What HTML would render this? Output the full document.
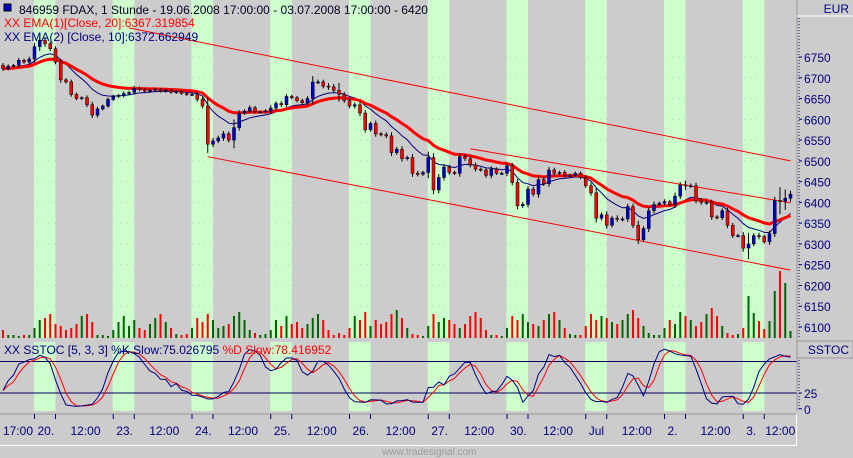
<!DOCTYPE html>
<html><head><meta charset="utf-8"><style>
html,body{margin:0;padding:0;background:#cccccc;}
svg{display:block;font-family:"Liberation Sans",sans-serif;}
</style></head><body>
<svg id="chart" width="853" height="458" viewBox="0 0 853 458" xmlns="http://www.w3.org/2000/svg">
<rect x="0" y="0" width="853" height="458" fill="#cccccc"/>
<g id="bands"></g>
<g id="grid"></g>
<g id="vol"></g>
<g id="chan"></g>
<g id="ema"></g>
<g id="candles"></g>
<g id="stoch"></g>
<g id="axes"></g>
<rect x="4" y="4" width="7" height="7" fill="#0000cc" stroke="#000" stroke-width="1"/>
<text x="19" y="14" font-size="12" fill="#000020">846959  FDAX, 1 Stunde - 19.06.2008 17:00:00 - 03.07.2008 17:00:00 - 6420</text>
<text x="4" y="27" font-size="12" fill="#ff0000">XX EMA(1)[Close, 20]:6367.319854</text>
<text x="4" y="41" font-size="12" fill="#000080">XX EMA(2) [Close, 10]:6372.662949</text>
<text x="4" y="354" font-size="12" fill="#000080">XX SSTOC [5, 3, 3] %K Slow:75.026795 <tspan fill="#ff0000">%D Slow:78.416952</tspan></text>
<text x="382" y="455" font-size="10" fill="#9a9a9a">www.tradesignal.com</text>
</svg>
<script>
const closes=[6722,6728,6730,6742,6738,6745,6775,6790,6782,6770,6738,6695,6690,6660,6650,6652,6635,6610,6625,6632,6648,6655,6658,6662,6665,6675,6672,6668,6670,6672,6668,6670,6665,6667,6662,6660,6660,6648,6632,6540,6548,6555,6565,6550,6580,6615,6620,6628,6618,6618,6620,6627,6638,6635,6655,6652,6645,6640,6650,6690,6690,6680,6678,6670,6660,6645,6632,6635,6615,6575,6590,6565,6563,6560,6520,6528,6505,6508,6470,6468,6472,6508,6430,6460,6485,6472,6470,6510,6505,6490,6480,6478,6465,6480,6470,6470,6488,6448,6392,6395,6432,6420,6455,6445,6478,6470,6472,6465,6465,6470,6460,6440,6423,6362,6370,6345,6362,6360,6360,6390,6345,6310,6337,6380,6395,6398,6402,6395,6415,6442,6440,6440,6405,6400,6400,6365,6363,6380,6345,6320,6320,6290,6300,6320,6318,6305,6325,6405,6403,6410,6420];
const wicks=[8,6,5,8,6,8,12,15,10,8,8,10,6,8,6,5,8,10,8,5,6,6,5,8,6,8,6,5,6,5,5,6,5,6,5,5,6,8,8,30,10,8,10,8,28,10,6,8,6,5,6,10,8,8,8,6,6,6,8,20,8,8,10,10,25,8,8,8,10,10,6,10,6,8,12,8,10,6,12,8,6,20,15,12,10,8,6,12,8,8,8,6,8,10,6,6,10,10,12,8,10,8,12,8,10,8,6,8,6,6,6,8,10,15,8,12,8,10,8,10,10,15,8,12,10,6,8,6,12,10,15,8,10,8,8,10,6,8,10,8,6,12,38,8,10,6,10,12,45,30,12];
const volumes=[8,3,3,2,3,3,
10,18,20,24,14,12,8,10,14,22,24,16,3,3,2,
8,16,22,12,18,10,8,14,20,24,16,10,4,3,4,
10,20,16,24,18,10,12,14,22,26,18,8,5,3,4,
8,18,12,22,14,16,10,14,20,24,18,8,3,5,3,
10,22,18,26,12,18,14,16,24,28,20,10,4,3,2,
12,24,16,20,18,14,10,14,22,26,20,8,3,3,2,
10,22,18,24,16,14,12,18,24,26,18,10,4,3,3,
12,24,18,22,20,16,14,18,24,28,20,12,5,3,3,
10,18,14,26,22,18,12,16,24,30,22,12,5,3,4,
10,42,25,17,9,17,47,67,55,7];
const dayStarts=[6,21,36,51,66,81,96,111,126,141];
const dayLabels=["20.","23.","24.","25.","26.","27.","30.","Jul","2.","3."];
const priceTicks=[6750,6700,6650,6600,6550,6500,6450,6400,6350,6300,6250,6200,6150,6100];
const stochTicks=[25,0];
const upperChannel=[[24,6820],[150,6500]];
const lowerChannel=[[39,6510],[150,6237]];
const midChannel=[[89,6529],[150,6399]];

const NS="http://www.w3.org/2000/svg";
function mk(tag,attrs,parent){const e=document.createElementNS(NS,tag);for(const k in attrs)e.setAttribute(k,attrs[k]);parent.appendChild(e);return e;}
const X=i=>3+5.25*i;
const Y=p=>57+(6750-p)*0.4154;
const VY=v=>338-v;
const SY=s=>393-(s-25)*0.63;
const n=closes.length;
const opens=closes.map((c,i)=>i===0?6730:closes[i-1]);
const highs=closes.map((c,i)=>Math.max(c,opens[i])+wicks[i]*0.7);
const lows=closes.map((c,i)=>Math.min(c,opens[i])-wicks[i]*0.7);

const gB=document.getElementById('bands');
dayStarts.forEach((k,j)=>{
  const x0=X(k)-0.5;
  let r=mk('rect',{x:x0,y:0,width:21.5,height:338,fill:'#ccffcc'},gB);
  
  
  let r2=mk('rect',{x:x0,y:342,width:21.5,height:69,fill:'#ccffcc'},gB);
  
  
});
// separator
let sep=mk('rect',{x:0,y:338,width:797,height:4,fill:'#cccccc'},gB);



const gG=document.getElementById('grid');
priceTicks.forEach(p=>{
  const l=mk('line',{x1:0,x2:797,y1:Y(p),y2:Y(p),stroke:'#b8c8b8','stroke-width':1,'stroke-dasharray':'1 5'},gG);
  
  
});

const gV=document.getElementById('vol');
volumes.forEach((v,i)=>{
  const up=closes[i]>=opens[i];
  const r=mk('rect',{x:X(i)-1,y:VY(v),width:2,height:v,fill:up?'#006600':'#ff0000'},gV);
  
  
});

const gC=document.getElementById('chan');
[[upperChannel,'upper-channel-line'],[lowerChannel,'lower-channel-line'],[midChannel,'middle-channel-line']].forEach(([c,nm])=>{
  const l=mk('line',{x1:X(c[0][0]),y1:Y(c[0][1]),x2:X(c[1][0]),y2:Y(c[1][1]),stroke:'#ff0000','stroke-width':1},gC);
  
  
});

function ema(arr,len){const a=2/(len+1);let out=[],e=arr[0];arr.forEach((v,i)=>{e=i===0?v:e+a*(v-e);out.push(e);});return out;}
const e20=ema(closes,20),e10=ema(closes,10);
const gE=document.getElementById('ema');
const pth=arr=>arr.map((v,i)=>(i?'L':'M')+X(i).toFixed(1)+' '+Y(v).toFixed(1)).join(' ');
let p10=mk('path',{d:pth(e10),fill:'none',stroke:'#000080','stroke-width':1},gE);


let p20=mk('path',{d:pth(e20),fill:'none',stroke:'#ff0000','stroke-width':3},gE);



const gK=document.getElementById('candles');
closes.forEach((c,i)=>{
  const o=opens[i],x=X(i);
  const w=mk('line',{x1:x,x2:x,y1:Y(highs[i]),y2:Y(lows[i]),stroke:'#000','stroke-width':1},gK);
  
  
  const top=Y(Math.max(o,c)),bot=Y(Math.min(o,c));
  const b=mk('rect',{x:x-1.5,y:top,width:3,height:Math.max(1,bot-top),fill:c>=o?'#0000cc':'#ff0000',stroke:'#000','stroke-width':0.5},gK);
  
  
});

// stochastic
const rawK=closes.map((c,i)=>{const s=Math.max(0,i-4);const hh=Math.max(...highs.slice(s,i+1)),ll=Math.min(...lows.slice(s,i+1));return hh===ll?50:(c-ll)/(hh-ll)*100;});
const sma=(arr,l)=>arr.map((v,i)=>{const s=Math.max(0,i-l+1);const sl=arr.slice(s,i+1);return sl.reduce((a,b)=>a+b,0)/sl.length;});
const kS=sma(rawK,3),dS=sma(kS,3);
const gS=document.getElementById('stoch');
[75,25].forEach(l=>{
  const ln=mk('line',{x1:0,x2:797,y1:SY(l),y2:SY(l),stroke:'#000060','stroke-width':1},gS);
  
  
});
const sp=arr=>arr.map((v,i)=>(i?'L':'M')+X(i).toFixed(1)+' '+SY(v).toFixed(1)).join(' ');
let dl=mk('path',{d:sp(dS),fill:'none',stroke:'#ff0000','stroke-width':1},gS);


let kl=mk('path',{d:sp(kS),fill:'none',stroke:'#000080','stroke-width':1},gS);



// axes
const gA=document.getElementById('axes');
let ra=mk('rect',{x:797,y:0,width:56,height:458,fill:'#cccccc'},gA);


let rl=mk('line',{x1:797,x2:797,y1:0,y2:411,stroke:'#999','stroke-width':1},gA);


let eb=mk('line',{x1:797,x2:853,y1:16,y2:16,stroke:'#ffffff','stroke-width':1},gA);


let eur=mk('text',{x:849,y:13,'font-size':12,fill:'#000080','text-anchor':'end'},gA);eur.textContent='EUR';


let dv=mk('line',{x1:799,x2:799,y1:18,y2:337,stroke:'#000080','stroke-width':1,'stroke-dasharray':'1 2'},gA);


priceTicks.forEach(p=>{
  const t=mk('line',{x1:799,x2:802,y1:Y(p),y2:Y(p),stroke:'#000080'},gA);
  
  
  const tx=mk('text',{x:804,y:Y(p)+5,'font-size':12,fill:'#000080'},gA);tx.textContent=p;
  
  
});
let sb=mk('rect',{x:797,y:341,width:56,height:17,fill:'none',stroke:'#999'},gA);


let st=mk('text',{x:849,y:354,'font-size':12,fill:'#000080','text-anchor':'end'},gA);st.textContent='SSTOC';


let sd=mk('line',{x1:799,x2:799,y1:360,y2:411,stroke:'#000080','stroke-dasharray':'1 2'},gA);


stochTicks.forEach(s=>{
  const t=mk('line',{x1:799,x2:802,y1:SY(s),y2:SY(s),stroke:'#000080'},gA);
  
  
  const tx=mk('text',{x:804,y:SY(s)+5,'font-size':12,fill:'#000080'},gA);tx.textContent=s;
  
  
});
// time axis
let tb=mk('rect',{x:0,y:411,width:797,height:34,fill:'#cccccc'},gA);


let tl=mk('line',{x1:0,x2:797,y1:414,y2:414,stroke:'#999'},gA);


let tw=mk('path',{d:'M0 445.5 H796.5 V414',fill:'none',stroke:'#ffffff'},gA);


let t0=mk('text',{x:3,y:435,'font-size':12,fill:'#000080'},gA);t0.textContent='17:00';


dayStarts.forEach((k,j)=>{
  const x=X(k);
  [x,x+21].forEach(tx=>{
    const t=mk('line',{x1:tx,x2:tx,y1:414,y2:419,stroke:'#000080'},gA);
    
    
  });
  const d=mk('text',{x:x+3,y:435,'font-size':12,fill:'#000080'},gA);d.textContent=dayLabels[j];
  
  
  const h=mk('text',{x:j===9?x+22:x+36,y:435,'font-size':12,fill:'#000080'},gA);h.textContent='12:00';
  
  
});
</script>
</body></html>
